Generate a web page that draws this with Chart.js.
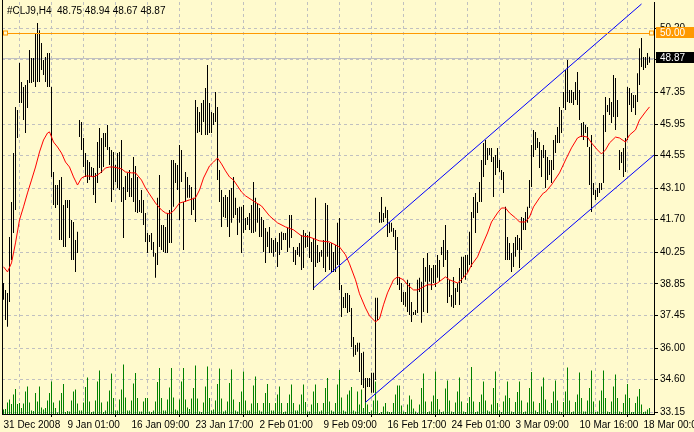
<!DOCTYPE html>
<html>
<head>
<meta charset="utf-8">
<script src="https://cdn.jsdelivr.net/npm/chart.js@4.4.1/dist/chart.umd.min.js"></script>
<style>
html, body { margin: 0; padding: 0; background: #fffacd; }
</style>
</head>
<body>
<canvas id="price-chart" width="694" height="432"></canvas>
<script>
const headerText = "#CLJ9,H4  48.75 48.94 48.67 48.87";
const timeLabels = ["31 Dec 2008", "9 Jan 01:00", "16 Jan 09:00", "23 Jan 17:00", "2 Feb 01:00", "9 Feb 09:00",
  "16 Feb 17:00", "24 Feb 01:00", "3 Mar 09:00", "10 Mar 16:00", "18 Mar 00:00"];
const priceTicks = [33.15, 34.60, 36.00, 37.45, 38.85, 40.25, 41.70, 43.10, 44.55, 45.95, 47.35, 48.80, 50.20];
const bidPrice = 48.87;
const levelPrice = 50.00;

// H4 bars, highs and lows
const barHighs = [
  38.89, 38.58, 38.45, 40.93, 42.49, 44.66, 46.71, 46.57, 48.66, 47.82,
  47.59, 47.68, 47.90, 49.24, 48.88, 48.88, 49.99, 50.44, 50.12, 49.55,
  48.79, 48.93, 49.10, 49.10, 47.59, 43.82, 43.24, 43.24, 43.46, 43.60,
  42.35, 42.58, 42.58, 42.58, 41.69, 41.60, 40.80, 41.16, 46.13, 46.04,
  45.33, 44.66, 44.35, 44.26, 44.04, 44.00, 43.78, 45.15, 45.77, 45.33,
  45.55, 45.55, 45.91, 44.93, 44.80, 44.71, 44.13, 44.66, 44.71, 45.24,
  43.15, 43.64, 43.78, 43.91, 43.55, 44.49, 44.09, 43.60, 42.58, 43.02,
  42.58, 42.00, 41.11, 41.02, 41.11, 40.71, 40.22, 42.67, 43.69, 41.47,
  41.47, 41.38, 42.00, 42.13, 44.35, 44.35, 44.22, 44.13, 45.02, 44.80,
  42.49, 43.82, 43.60, 43.24, 43.15, 42.67, 47.02, 46.71, 46.48, 46.88,
  47.02, 47.55, 48.57, 46.88, 46.48, 46.44, 47.37, 46.71, 43.91, 43.02,
  42.71, 42.80, 42.71, 43.02, 43.11, 43.60, 42.67, 42.22, 42.27, 42.27,
  42.35, 41.78, 41.82, 42.00, 42.35, 43.38, 42.67, 42.44, 42.22, 41.82,
  41.69, 41.33, 41.16, 41.38, 40.89, 40.80, 40.89, 40.71, 41.11, 41.16,
  41.11, 41.11, 41.33, 41.91, 41.91, 40.49, 40.36, 40.49, 40.67, 41.02,
  41.24, 41.11, 41.02, 41.16, 40.71, 40.89, 42.67, 40.58, 40.27, 40.36,
  40.80, 42.44, 42.35, 40.67, 40.67, 40.27, 40.58, 41.56, 41.78, 38.80,
  38.27, 38.45, 38.45, 38.36, 37.78, 36.49, 36.14, 36.23, 36.23, 35.78,
  35.83, 34.67, 34.67, 34.67, 34.90, 34.90, 38.23, 38.23, 42.04, 42.71,
  42.00, 42.27, 42.13, 41.60, 41.56, 41.33, 41.24, 40.93, 39.16, 38.89,
  38.49, 38.49, 39.03, 38.89, 38.05, 37.60, 37.69, 39.03, 39.12, 38.94,
  40.00, 39.60, 40.22, 39.69, 39.56, 39.69, 39.69, 40.13, 39.91, 40.49,
  40.80, 41.47, 40.36, 39.03, 38.36, 39.16, 38.67, 38.89, 39.56, 40.05,
  40.05, 40.13, 40.13, 41.16, 42.04, 42.71, 42.89, 42.49, 43.38, 44.35,
  45.11, 45.24, 44.89, 44.89, 44.89, 44.49, 44.57, 44.89, 44.35, 43.91,
  43.82, 42.27, 40.93, 40.67, 40.22, 40.67, 40.93, 41.02, 40.89, 41.82,
  41.78, 42.04, 42.27, 43.46, 45.02, 45.68, 45.60, 45.33, 45.15, 44.80,
  45.02, 44.80, 44.49, 44.35, 44.35, 45.24, 45.46, 45.82, 46.71, 46.57,
  47.37, 48.35, 48.79, 47.46, 47.46, 47.37, 47.82, 48.26, 47.46, 46.00,
  46.04, 45.91, 45.82, 44.93, 45.46, 43.33, 43.02, 43.11, 43.33, 43.33,
  46.35, 47.15, 46.79, 47.11, 46.93, 48.13, 47.99, 47.02, 44.80, 44.71,
  44.89, 45.33, 47.59, 47.55, 47.33, 47.24, 47.24, 48.21, 49.32, 49.77,
  48.93, 48.93, 49.10, 48.94
];
const barLows = [
  38.14, 37.25, 36.94, 38.05, 39.91, 41.11, 42.13, 45.33, 46.88, 46.88,
  46.13, 45.55, 46.66, 47.77, 47.77, 47.82, 47.59, 47.82, 47.82, 48.35,
  48.13, 47.82, 47.59, 47.59, 43.60, 42.35, 42.22, 42.35, 40.80, 40.80,
  40.49, 40.49, 42.22, 40.89, 39.91, 39.91, 39.38, 40.22, 45.37, 44.80,
  44.04, 43.60, 43.33, 43.46, 43.60, 42.80, 42.44, 43.33, 44.00, 43.78,
  44.04, 44.93, 44.80, 44.13, 42.49, 43.02, 43.38, 43.11, 43.02, 42.49,
  40.89, 42.58, 42.93, 42.71, 42.71, 42.49, 42.04, 42.00, 42.04, 42.00,
  41.47, 40.71, 40.22, 40.71, 40.36, 40.05, 39.12, 39.69, 40.49, 40.36,
  40.27, 40.22, 40.22, 40.67, 40.67, 42.27, 43.33, 43.02, 41.69, 43.38,
  40.36, 42.49, 42.67, 42.67, 41.91, 42.13, 41.60, 45.55, 45.60, 45.46,
  46.04, 45.46, 45.46, 45.55, 45.55, 45.91, 46.04, 43.46, 42.49, 41.38,
  41.82, 41.78, 41.38, 40.93, 41.56, 41.78, 41.91, 41.02, 41.56, 40.22,
  41.11, 41.24, 41.47, 41.24, 41.11, 41.11, 41.16, 41.56, 40.93, 40.93,
  40.27, 39.78, 40.49, 40.22, 40.22, 40.05, 40.27, 39.60, 40.13, 40.36,
  40.80, 40.80, 40.27, 40.45, 40.89, 39.82, 39.69, 40.13, 40.05, 39.47,
  39.56, 40.45, 40.49, 40.00, 39.82, 38.58, 39.60, 39.78, 39.82, 40.05,
  39.56, 39.38, 40.05, 39.47, 39.38, 39.38, 39.38, 39.69, 38.58, 37.38,
  37.78, 37.78, 37.56, 37.60, 36.05, 35.61, 35.69, 35.83, 34.94, 34.36,
  34.23, 33.61, 34.27, 34.27, 34.01, 34.01, 34.58, 37.25, 41.56, 41.56,
  41.60, 41.78, 40.93, 41.11, 41.16, 40.93, 40.36, 38.80, 38.58, 38.05,
  37.91, 37.83, 37.60, 37.47, 37.16, 37.47, 37.47, 37.56, 38.49, 37.12,
  37.60, 38.94, 37.56, 38.94, 38.58, 38.89, 38.71, 39.12, 38.94, 40.13,
  39.60, 39.91, 38.00, 38.27, 37.83, 37.78, 37.91, 38.49, 37.91, 38.89,
  39.16, 39.03, 39.34, 39.69, 39.60, 41.78, 41.11, 42.00, 42.49, 42.49,
  43.60, 44.13, 44.35, 44.57, 44.26, 42.71, 43.69, 44.00, 43.82, 43.46,
  42.89, 39.91, 39.91, 39.91, 39.38, 39.60, 40.05, 40.36, 39.56, 40.36,
  41.24, 41.24, 41.56, 42.22, 43.15, 44.49, 44.80, 44.89, 44.00, 43.60,
  44.44, 43.11, 43.46, 43.69, 43.33, 43.91, 44.66, 45.11, 45.11, 45.55,
  46.66, 46.57, 46.93, 46.88, 46.88, 46.79, 47.02, 46.79, 46.13, 45.37,
  45.24, 45.55, 44.93, 43.24, 42.04, 42.80, 42.58, 42.71, 42.89, 43.02,
  43.33, 45.60, 46.48, 46.35, 46.00, 46.26, 45.68, 46.26, 43.91, 44.22,
  43.60, 43.82, 45.24, 46.79, 46.48, 46.66, 46.35, 46.93, 47.68, 48.48,
  48.35, 48.44, 48.57, 48.67
];
const volumes = [
  90, 100, 230, 290, 200, 390, 500, 200, 220, 120,
  210, 450, 550, 230, 70, 60, 420, 250, 550, 130,
  90, 120, 270, 420, 650, 230, 120, 30, 270, 420,
  600, 40, 60, 50, 270, 450, 490, 210, 70, 70,
  230, 540, 730, 250, 40, 50, 270, 650, 870, 230,
  40, 70, 250, 470, 810, 320, 70, 70, 290, 490,
  990, 330, 70, 70, 270, 610, 820, 320, 50, 50,
  250, 320, 320, 50, 40, 70, 250, 640, 920, 320,
  70, 70, 290, 530, 920, 330, 90, 70, 290, 650,
  920, 290, 130, 100, 310, 520, 970, 310, 50, 40,
  230, 550, 950, 320, 70, 90, 270, 600, 910, 310,
  50, 70, 250, 620, 890, 290, 70, 50, 240, 450,
  850, 270, 70, 70, 210, 570, 750, 220, 70, 50,
  220, 420, 600, 220, 70, 70, 220, 390, 550, 220,
  40, 50, 220, 390, 590, 220, 70, 70, 190, 390,
  590, 240, 50, 50, 190, 450, 590, 220, 50, 70,
  220, 520, 720, 250, 70, 50, 220, 590, 880, 330,
  70, 50, 390, 470, 540, 70, 50, 450, 190, 490,
  120, 650, 190, 40, 70, 270, 650, 270, 20, 40,
  150, 220, 50, 40, 40, 220, 390, 570, 570, 170,
  50, 40, 190, 370, 290, 110, 50, 20, 190, 520,
  810, 250, 40, 50, 250, 370, 850, 300, 90, 40,
  50, 510, 670, 270, 50, 40, 230, 450, 730, 250,
  50, 40, 220, 340, 940, 250, 40, 50, 240, 390,
  650, 270, 70, 50, 190, 520, 850, 220, 70, 40,
  250, 370, 650, 320, 50, 40, 240, 440, 650, 270,
  40, 50, 230, 520, 840, 250, 70, 40, 220, 550,
  730, 290, 70, 40, 220, 450, 670, 270, 50, 40,
  240, 450, 930, 270, 40, 50, 240, 390, 830, 320,
  50, 50, 270, 520, 870, 250, 40, 50, 270, 470,
  870, 320, 50, 40, 250, 550, 790, 320, 50, 40,
  220, 390, 600, 320, 40, 40, 220, 350, 500, 190,
  40, 50, 90, 120
];

// red moving average, read at these bars
const maBars = [0, 2, 4, 6, 8, 10, 12, 14, 16, 18, 20, 22, 23, 25, 27, 29, 31, 33, 35, 37,
  39, 41, 43, 45, 47, 49, 51, 53, 55, 57, 59, 61, 64, 66, 69, 71, 73, 76, 79, 81,
  83, 85, 88, 90, 93, 96, 98, 100, 103, 105, 107, 109, 111, 113, 115, 117, 119, 121, 125, 129,
  133, 137, 141, 145, 149, 153, 158, 163, 168, 171, 173, 176, 178, 181, 183, 186, 188, 190, 192, 195,
  197, 200, 202, 205, 207, 210, 212, 215, 217, 221, 223, 227, 229, 232, 234, 237, 239, 242, 244, 247,
  249, 251, 253, 256, 258, 261, 263, 265, 268, 270, 271, 274, 278, 281, 284, 287, 289, 292, 294, 297,
  299, 301, 303, 306, 308, 311, 313, 316, 318, 321, 323];
const maValues = [39.61, 39.38, 39.78, 40.67, 41.69, 42.27, 42.89, 43.46, 44.04, 44.71, 45.24, 45.55, 45.60, 45.15, 44.93, 44.66, 44.26, 44.04, 43.60, 43.24,
  43.55, 43.64, 43.64, 43.60, 43.69, 43.82, 44.00, 44.04, 44.04, 44.00, 43.96, 43.82, 43.78, 43.78, 43.46, 43.11, 42.84, 42.44, 42.13, 42.00,
  41.96, 42.09, 42.44, 42.49, 42.58, 42.67, 43.02, 43.55, 44.09, 44.26, 44.44, 44.18, 43.87, 43.60, 43.46, 43.20, 42.93, 42.76, 42.53, 42.31,
  41.87, 41.56, 41.38, 41.25, 40.98, 40.93, 40.76, 40.71, 40.49, 40.14, 39.74, 39.03, 38.41, 37.78, 37.43, 37.16, 37.30, 37.92, 38.45, 39.03,
  39.16, 39.03, 38.81, 38.58, 38.58, 38.72, 38.81, 38.81, 38.89, 39.16, 39.03, 38.89, 39.03, 39.34, 39.69, 40.05, 40.49, 41.11, 41.60, 42.00,
  42.22, 42.22, 42.00, 41.78, 41.60, 41.60, 41.82, 42.27, 42.67, 42.89, 42.93, 43.25, 43.78, 44.35, 44.89, 45.33, 45.42, 45.37, 45.11, 44.80,
  44.62, 44.80, 45.11, 45.37, 45.33, 45.15, 45.46, 45.69, 46.13, 46.49, 46.71];

// blue trend channel
const upperBars = [155, 319];
const upperValues = [38.67, 51.28];
const lowerBars = [181, 326];
const lowerValues = [33.59, 44.63];

const fontFamily = '"Liberation Sans", Arial, sans-serif';
const bgColor = "#fffacd";

const toPoints = (xs, ys) => xs.map((x, k) => ({ x: x, y: ys[k] }));

const mtPlugin = {
  id: "mtPlugin",
  beforeDraw(chart) {
    const ctx = chart.ctx;
    ctx.save();
    ctx.fillStyle = bgColor;
    ctx.fillRect(0, 0, chart.width, chart.height);
    ctx.restore();
  },
  beforeDatasetsDraw(chart) {
    const { ctx, chartArea, scales } = chart;
    const yb = Math.round(scales.y.getPixelForValue(bidPrice)) + 0.5;
    ctx.save();
    ctx.strokeStyle = "#c0c0c0";
    ctx.lineWidth = 1;
    ctx.beginPath();
    ctx.moveTo(chartArea.left, yb);
    ctx.lineTo(chartArea.right, yb);
    ctx.stroke();
    ctx.restore();
  },
  afterDraw(chart) {
    const { ctx, chartArea, scales } = chart;
    ctx.save();
    // left frame
    ctx.strokeStyle = "#000";
    ctx.lineWidth = 1;
    ctx.beginPath();
    ctx.moveTo(chartArea.left + 0.5, 0);
    ctx.lineTo(chartArea.left + 0.5, chartArea.bottom);
    ctx.stroke();

    // horizontal level line with its two selection squares
    const yl = Math.round(scales.y.getPixelForValue(levelPrice)) + 0.5;
    ctx.strokeStyle = "#ff9900";
    ctx.beginPath();
    ctx.moveTo(chartArea.left + 6, yl);
    ctx.lineTo(chartArea.right - 4, yl);
    ctx.stroke();
    ctx.fillStyle = bgColor;
    ctx.fillRect(chartArea.left + 1.5, yl - 2.5, 4, 4);
    ctx.strokeRect(chartArea.left + 1.5, yl - 2.5, 4, 4);
    ctx.fillRect(chartArea.right - 4.5, yl - 2.5, 4, 4);
    ctx.strokeRect(chartArea.right - 4.5, yl - 2.5, 4, 4);

    // price boxes on the scale
    ctx.font = "10px " + fontFamily;
    ctx.textBaseline = "middle";
    ctx.textAlign = "left";
    const yBid = Math.round(scales.y.getPixelForValue(bidPrice));
    ctx.fillStyle = "#000";
    ctx.fillRect(chartArea.right + 2, yBid - 6, 38, 11);
    ctx.fillStyle = "#fff";
    ctx.fillText(bidPrice.toFixed(2), chartArea.right + 6, yBid);
    const yLev = Math.round(scales.y.getPixelForValue(levelPrice));
    ctx.fillStyle = "#ff9900";
    ctx.fillRect(chartArea.right + 2, yLev - 6, 38, 11);
    ctx.fillStyle = "#fff";
    ctx.fillText(levelPrice.toFixed(2), chartArea.right + 6, yLev);

    // symbol header
    ctx.fillStyle = "#000";
    ctx.fillText(headerText, chartArea.left + 5, 11);
    ctx.restore();
  }
};

new Chart(document.getElementById("price-chart"), {
  data: {
    datasets: [
      {
        type: "line",
        label: "MA",
        data: toPoints(maBars, maValues),
        borderColor: "#ff0000",
        borderWidth: 1,
        pointRadius: 0,
        yAxisID: "y",
        order: 1
      },
      {
        type: "line",
        label: "upper",
        data: toPoints(upperBars, upperValues),
        borderColor: "#0000ff",
        borderWidth: 1,
        pointRadius: 0,
        yAxisID: "y",
        order: 1
      },
      {
        type: "line",
        label: "lower",
        data: toPoints(lowerBars, lowerValues),
        borderColor: "#0000ff",
        borderWidth: 1,
        pointRadius: 0,
        yAxisID: "y",
        order: 1
      },
      {
        type: "bar",
        label: "CLJ9",
        data: barHighs.map((h, i) => ({ x: i, y: [barLows[i], h] })),
        backgroundColor: "#000",
        grouped: false,
        maxBarThickness: 1,
        inflateAmount: 0,
        yAxisID: "y",
        order: 3
      },
      {
        type: "bar",
        label: "Volume",
        data: volumes.map((v, i) => ({ x: i, y: v })),
        backgroundColor: "#008000",
        grouped: false,
        maxBarThickness: 1,
        inflateAmount: 0,
        yAxisID: "vol",
        order: 5
      }
    ]
  },
  options: {
    responsive: false,
    animation: false,
    devicePixelRatio: 1,
    layout: { padding: { left: 2, top: 2, right: 0, bottom: 0 } },
    plugins: { legend: { display: false }, tooltip: { enabled: false } },
    scales: {
      x: {
        type: "linear",
        min: -0.75,
        max: 325.25,
        offset: false,
        afterBuildTicks: (s) => {
          const t = [];
          for (let v = 0; v <= 320; v += 16) t.push({ value: v });
          s.ticks = t;
        },
        afterFit: (s) => { s.height = 18; s.paddingLeft = 0; s.paddingRight = 0; },
        ticks: {
          autoSkip: false,
          maxRotation: 0,
          align: "start",
          padding: 2,
          color: "#000",
          font: { family: fontFamily, size: 10 },
          callback: (v, i) => (i % 2 === 0 ? timeLabels[i / 2] : "")
        },
        grid: {
          color: (c) => (c.index === 0 ? "rgba(0,0,0,0)" : "#c0c0c0"),
          tickColor: (c) => (c.index % 2 === 0 ? "#000" : "rgba(0,0,0,0)"),
          tickLength: 3
        },
        border: { color: "#000", dash: [3, 3] }
      },
      y: {
        position: "right",
        min: 33.07,
        max: 51.37,
        afterBuildTicks: (s) => { s.ticks = priceTicks.map((v) => ({ value: v })); },
        afterFit: (s) => { s.width = 40; s.paddingTop = 0; s.paddingBottom = 0; },
        ticks: {
          color: "#000",
          padding: 2,
          font: { family: fontFamily, size: 10 },
          callback: (v) => Number(v).toFixed(2)
        },
        grid: { color: "#c0c0c0", tickColor: "#000", tickLength: 4 },
        border: { color: "#000", dash: [3, 3] }
      },
      vol: {
        display: false,
        min: 0,
        max: 8240
      }
    }
  },
  plugins: [mtPlugin]
});
</script>
</body>
</html>
